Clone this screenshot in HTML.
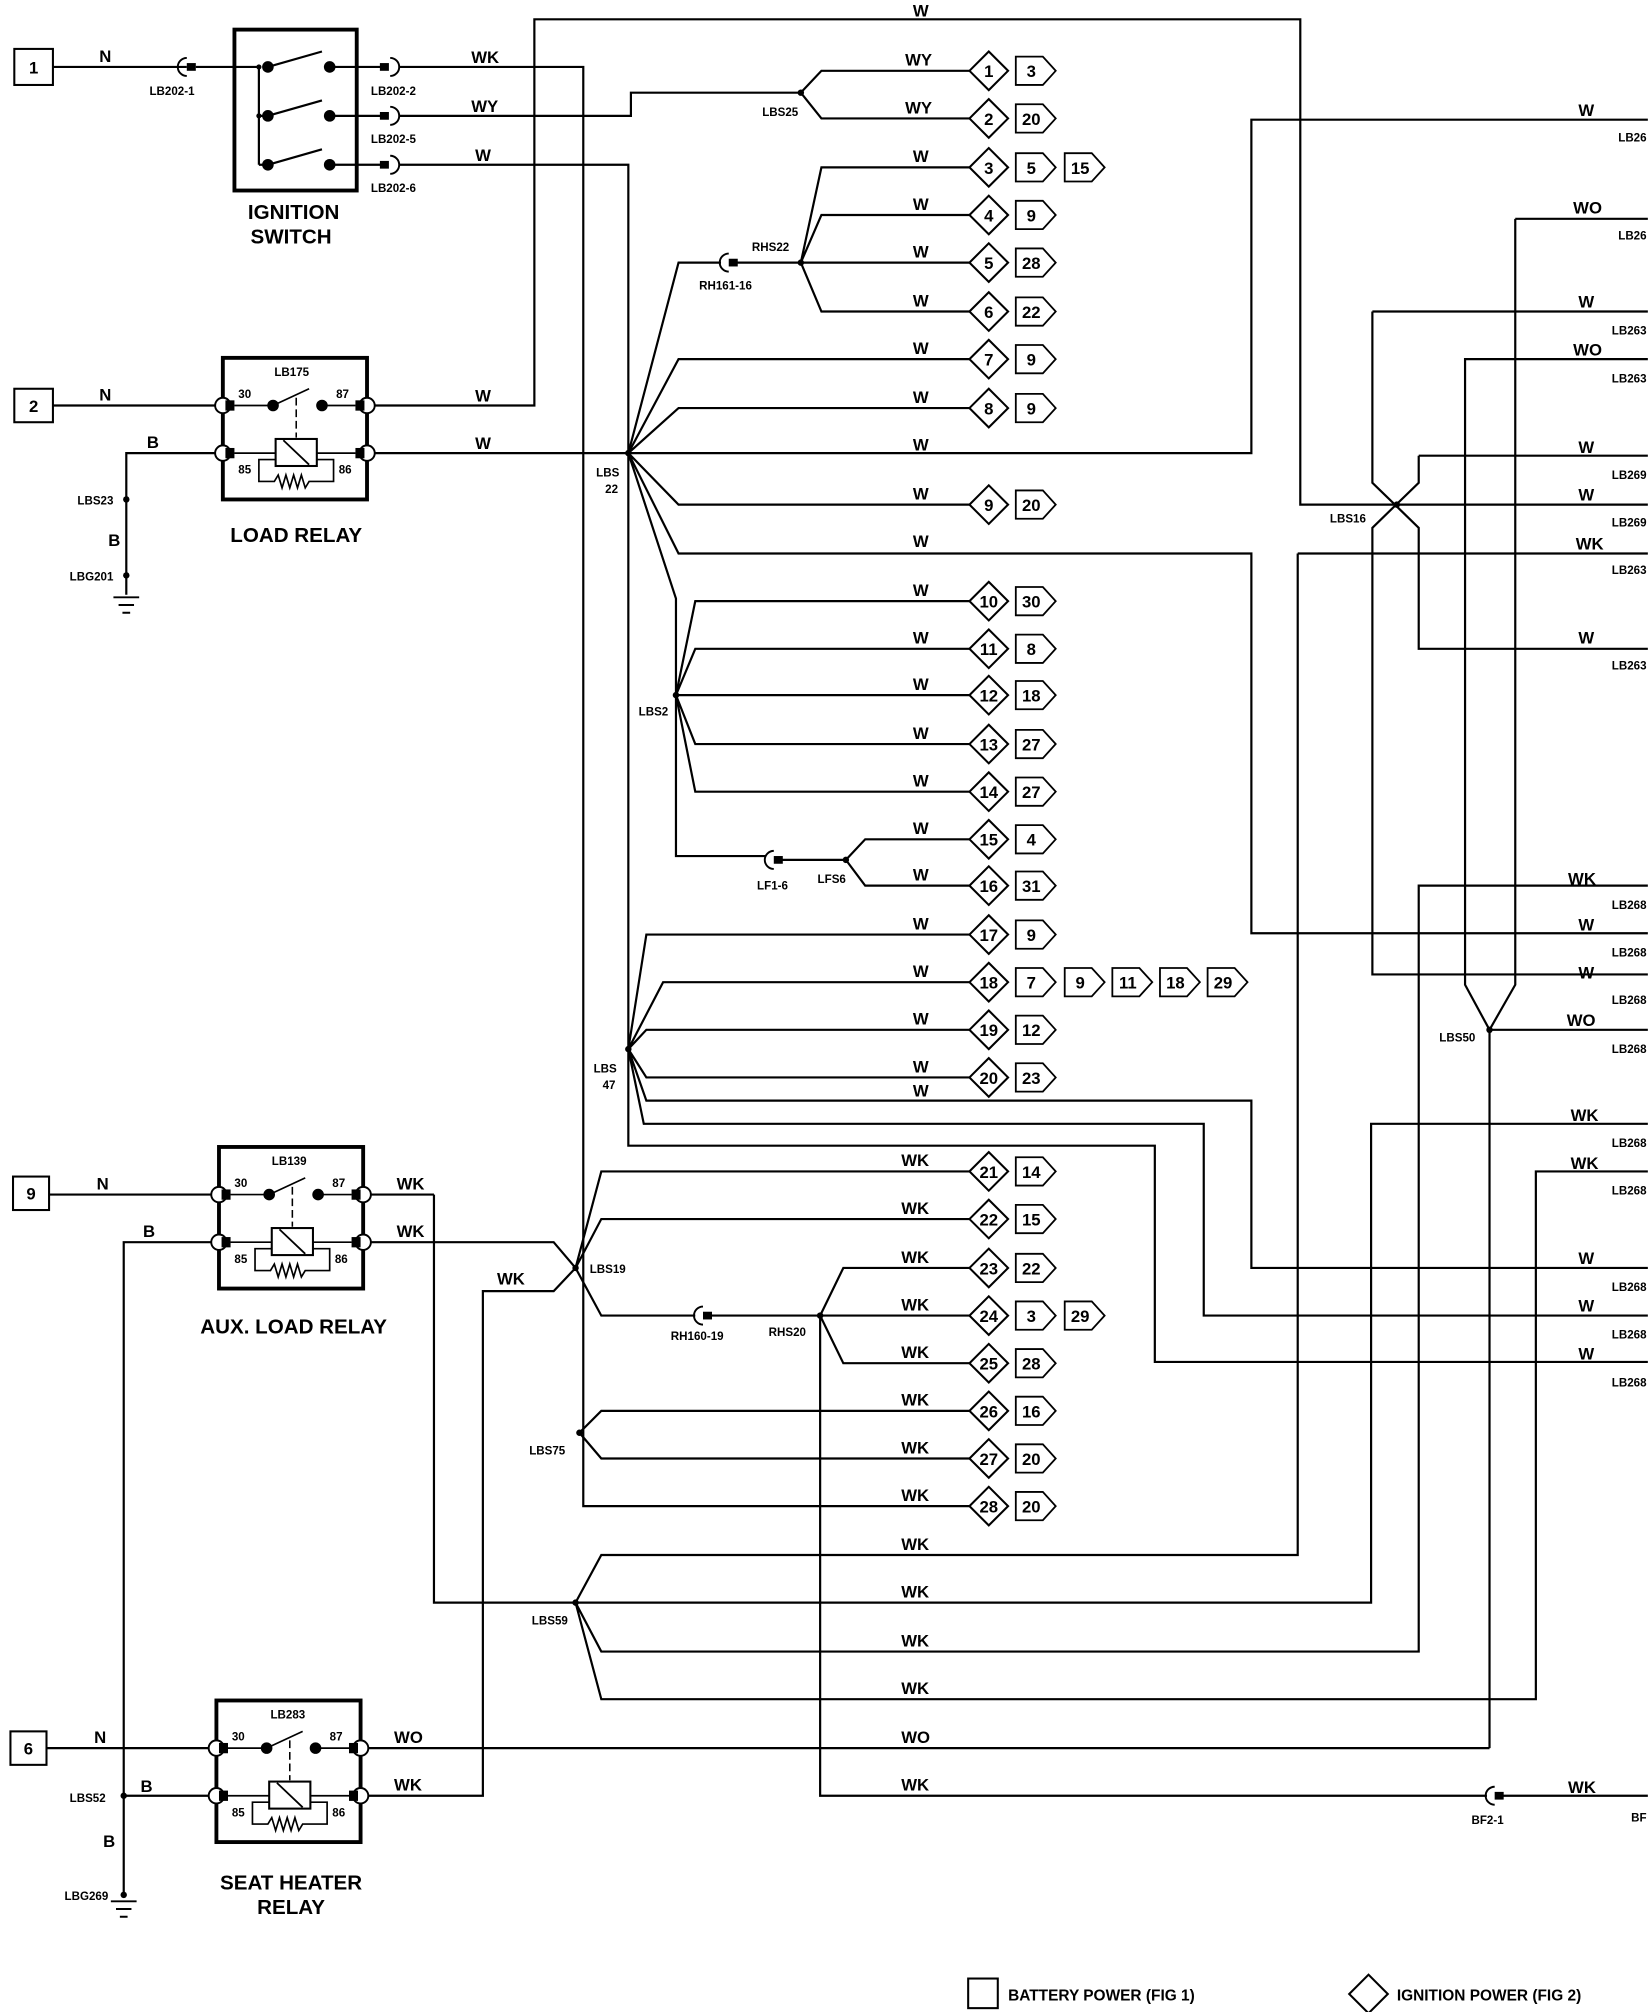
<!DOCTYPE html>
<html><head><meta charset="utf-8"><style>
html,body{margin:0;padding:0;background:#fff;}
svg{display:block;}
text{font-family:"Liberation Sans",sans-serif;font-weight:bold;fill:#000;}
.w{font-size:13px;}
.s{font-size:9px;}
.t{font-size:13px;text-anchor:middle;}
.big{font-size:16px;text-anchor:middle;}
</style></head><body>
<svg width="1648" height="2012" viewBox="0 0 1280 1563" xmlns="http://www.w3.org/2000/svg">
<defs>
<g id="relay">
<rect x="0" y="0" width="112" height="110" fill="none" stroke="#000" stroke-width="3"/>
<circle cx="0" cy="37" r="6" fill="#fff" stroke="#000" stroke-width="1.5"/>
<circle cx="0" cy="74" r="6" fill="#fff" stroke="#000" stroke-width="1.5"/>
<circle cx="112" cy="37" r="6" fill="#fff" stroke="#000" stroke-width="1.5"/>
<circle cx="112" cy="74" r="6" fill="#fff" stroke="#000" stroke-width="1.5"/>
<rect x="2" y="33" width="7" height="8"/><rect x="2" y="70" width="7" height="8"/>
<rect x="103" y="33" width="7" height="8"/><rect x="103" y="70" width="7" height="8"/>
<path d="M9 37H39 M39 37L67 24 M77 37H103 M9 74H41 M73 74H103 M41 79H28V96H40 l3 -5 3 10 3 -10 3 10 3 -10 3 10 3 -10 3 10 3 -5 H86V79H73" fill="none" stroke="#000" stroke-width="1.3"/>
<circle cx="39" cy="37" r="4.5"/><circle cx="77" cy="37" r="4.5"/>
<path d="M57 31V62" stroke="#000" stroke-width="1.2" stroke-dasharray="6 3"/>
<rect x="41" y="63" width="32" height="21" fill="#fff" stroke="#000" stroke-width="1.6"/>
<path d="M47 64L67 83" stroke="#000" stroke-width="1.4"/>
<text x="12" y="31" class="s">30</text><text x="88" y="31" class="s">87</text>
<text x="12" y="90" class="s">85</text><text x="90" y="90" class="s">86</text>
</g>
<g id="dia"><path d="M-15 0L0 -15L15 0L0 15Z" fill="#fff" stroke="#000" stroke-width="1.6"/></g>
<g id="tag"><path d="M0 -11H21L31 0L21 11H0Z" fill="#fff" stroke="#000" stroke-width="1.4"/></g>
<g id="gnd"><path d="M-10 0H10M-6 6H6M-3 12H3" stroke="#000" stroke-width="1.5"/></g>
</defs>

<g fill="none" stroke="#000" stroke-width="1.7">
<path d="M41 52H145 M152 52H201 M201 52V128 M201 90H208 M201 128H208"/>
<path d="M256 52H296 M256 90H296 M256 128H296"/>
<path d="M310 52H453V1170H753"/>
<path d="M310 90H490V72H622"/>
<path d="M310 128H488V890H897V1058H1280"/>
<path d="M41 315H173 M285 315H415V15H1010V392H1280"/>
<path d="M173 352H98V462 M285 352H972V93H1280"/>
<path d="M208 52L250 40 M208 90L250 78 M208 128L250 116"/>
<path d="M622 72L638 55H753 M622 72L638 92H753"/>
<path d="M488 352L527 204H560 M568 204H622 M622 204L638 130H753 M622 204L638 167H753 M622 204H753 M622 204L638 242H753"/>
<path d="M488 352L527 279H753 M488 352L527 317H753 M488 352L527 392H753 M488 352L527 430H972V725H1280"/>
<path d="M488 352L525 465V665H595 M603 668H657 M657 668L672 652H753 M657 668L672 688H753"/>
<path d="M525 540L540 467H753 M525 540L540 504H753 M525 540H753 M525 540L540 578H753 M525 540L540 615H753"/>
<path d="M488 815L502 726H753 M488 815L515 763H753 M488 815L502 800H753 M488 815L502 837H753 M488 815L502 855H972V985H1280 M488 815L500 873H935V1022H1280"/>
<path d="M1066 242H1280 M1066 242V375L1102 410V504H1280 M1102 354H1280 M1102 354V375L1066 410V757H1280"/>
<path d="M1177 170H1280 M1177 170V765L1157 800L1138 765V279H1280 M1157 800H1280 M1157 800V1358"/>
<path d="M1008 430H1280 M1008 430V1208H467L447 1245L467 1283H1102V688H1280 M447 1245L467 1320H1193V910H1280"/>
<path d="M337 928V1245H1065V873H1280"/>
<path d="M38 928H170 M282 928H337 M170 965H96V1472 M282 965H430L447 985L430 1003H375V1395H280"/>
<path d="M447 985L467 910H753 M447 985L467 947H753 M447 985L467 1022H540 M548 1022H637 M637 1022L655 985H753 M637 1022H753 M637 1022L655 1059H753 M637 1022V1395H1155 M1163 1395H1280"/>
<path d="M450 1113L467 1096H753 M450 1113L467 1133H753"/>
<path d="M36 1358H168 M280 1358H1157 M96 1395H168"/>
</g>
<g fill="#000">
<rect x="145" y="49" width="7" height="6"/><path d="M145 45A7 7 0 0 0 145 59" fill="none" stroke="#000" stroke-width="1.5"/>
<rect x="295" y="49" width="7" height="6"/><path d="M303 45A7 7 0 0 1 303 59" fill="none" stroke="#000" stroke-width="1.5"/>
<rect x="295" y="87" width="7" height="6"/><path d="M303 83A7 7 0 0 1 303 97" fill="none" stroke="#000" stroke-width="1.5"/>
<rect x="295" y="125" width="7" height="6"/><path d="M303 121A7 7 0 0 1 303 135" fill="none" stroke="#000" stroke-width="1.5"/>
<rect x="566" y="201" width="7" height="6"/><path d="M566 197A7 7 0 0 0 566 211" fill="none" stroke="#000" stroke-width="1.5"/>
<rect x="601" y="665" width="7" height="6"/><path d="M601 661A7 7 0 0 0 601 675" fill="none" stroke="#000" stroke-width="1.5"/>
<rect x="546" y="1019" width="7" height="6"/><path d="M546 1015A7 7 0 0 0 546 1029" fill="none" stroke="#000" stroke-width="1.5"/>
<rect x="1161" y="1392" width="7" height="6"/><path d="M1161 1388A7 7 0 0 0 1161 1402" fill="none" stroke="#000" stroke-width="1.5"/>
<circle cx="208" cy="52" r="4.5"/><circle cx="208" cy="90" r="4.5"/><circle cx="208" cy="128" r="4.5"/>
<circle cx="256" cy="52" r="4.5"/><circle cx="256" cy="90" r="4.5"/><circle cx="256" cy="128" r="4.5"/>
<circle cx="201" cy="52" r="2"/><circle cx="201" cy="90" r="2"/>
<circle cx="622" cy="72" r="2.5"/><circle cx="488" cy="352" r="2.5"/><circle cx="622" cy="204" r="2.5"/>
<circle cx="525" cy="540" r="2.5"/><circle cx="657" cy="668" r="2.5"/><circle cx="488" cy="815" r="2.5"/>
<circle cx="447" cy="985" r="2.5"/><circle cx="637" cy="1022" r="2.5"/><circle cx="450" cy="1113" r="2.5"/>
<circle cx="447" cy="1245" r="2.5"/><circle cx="1085" cy="392" r="2.5"/><circle cx="1157" cy="800" r="2.5"/>
<circle cx="98" cy="388" r="2.5"/><circle cx="98" cy="447" r="2.5"/><circle cx="96" cy="1395" r="2.5"/><circle cx="96" cy="1472" r="2.5"/>
</g>
<rect x="182" y="23" width="95" height="125" fill="none" stroke="#000" stroke-width="3"/>
<use href="#relay" x="173" y="278"/>
<use href="#relay" x="170" y="891"/>
<use href="#relay" x="168" y="1321"/>
<use href="#gnd" x="98" y="464"/><use href="#gnd" x="96" y="1477"/>
<g fill="#fff" stroke="#000" stroke-width="1.6">
<rect x="11" y="38" width="30" height="28"/><rect x="11" y="302" width="30" height="26"/>
<rect x="10" y="914" width="28" height="26"/><rect x="8" y="1345" width="28" height="26"/>
</g>
<text x="26" y="57" class="t">1</text><text x="26" y="320" class="t">2</text>
<text x="24" y="932" class="t">9</text><text x="22" y="1363" class="t">6</text>

<g class="w">
<text x="77" y="48">N</text><text x="77" y="311">N</text><text x="75" y="924">N</text><text x="73" y="1354">N</text>
<text x="114" y="348">B</text><text x="84" y="424">B</text><text x="111" y="961">B</text><text x="109" y="1392">B</text><text x="80" y="1435">B</text>
<text x="366" y="49">WK</text><text x="366" y="87">WY</text><text x="369" y="125">W</text>
<text x="369" y="312">W</text><text x="369" y="349">W</text>
<text x="308" y="924">WK</text><text x="308" y="961">WK</text><text x="386" y="998">WK</text>
<text x="306" y="1354">WO</text><text x="306" y="1391">WK</text>
<text x="709" y="13">W</text>
</g>
<g class="s">
<text x="116" y="74">LB202-1</text><text x="288" y="74">LB202-2</text><text x="288" y="111">LB202-5</text><text x="288" y="149">LB202-6</text>
<text x="213" y="292">LB175</text><text x="211" y="905">LB139</text><text x="210" y="1335">LB283</text>
<text x="60" y="392">LBS23</text><text x="54" y="451">LBG201</text>
<text x="54" y="1400">LBS52</text><text x="50" y="1476">LBG269</text>
<text x="592" y="90">LBS25</text><text x="584" y="195">RHS22</text><text x="543" y="225">RH161-16</text>
<text x="463" y="370">LBS</text><text x="470" y="383">22</text>
<text x="496" y="556">LBS2</text><text x="588" y="691">LF1-6</text><text x="635" y="686">LFS6</text>
<text x="461" y="833">LBS</text><text x="468" y="846">47</text>
<text x="458" y="989">LBS19</text><text x="521" y="1041">RH160-19</text><text x="597" y="1038">RHS20</text>
<text x="411" y="1130">LBS75</text><text x="413" y="1262">LBS59</text>
<text x="1033" y="406">LBS16</text><text x="1118" y="809">LBS50</text><text x="1143" y="1417">BF2-1</text>
</g>
<text x="228" y="170" class="big">IGNITION</text><text x="226" y="189" class="big">SWITCH</text>
<text x="230" y="421" class="big">LOAD RELAY</text>
<text x="228" y="1036" class="big">AUX. LOAD RELAY</text>
<text x="226" y="1468" class="big">SEAT HEATER</text><text x="226" y="1487" class="big">RELAY</text>

<g class="w">
<text x="1226" y="90">W</text><text x="1222" y="166">WO</text><text x="1226" y="239">W</text><text x="1222" y="276">WO</text>
<text x="1226" y="352">W</text><text x="1226" y="389">W</text><text x="1224" y="427">WK</text><text x="1226" y="500">W</text>
<text x="1218" y="687">WK</text><text x="1226" y="723">W</text><text x="1226" y="760">W</text><text x="1217" y="797">WO</text>
<text x="1220" y="871">WK</text><text x="1220" y="908">WK</text><text x="1226" y="982">W</text><text x="1226" y="1019">W</text><text x="1226" y="1056">W</text>
<text x="1218" y="1393">WK</text>
</g>
<g class="s">
<text x="1257" y="110">LB26</text><text x="1257" y="186">LB26</text><text x="1252" y="260">LB263</text><text x="1252" y="297">LB263</text>
<text x="1252" y="372">LB269</text><text x="1252" y="409">LB269</text><text x="1252" y="446">LB263</text><text x="1252" y="520">LB263</text>
<text x="1252" y="706">LB268</text><text x="1252" y="743">LB268</text><text x="1252" y="780">LB268</text><text x="1252" y="818">LB268</text>
<text x="1252" y="891">LB268</text><text x="1252" y="928">LB268</text><text x="1252" y="1003">LB268</text><text x="1252" y="1040">LB268</text><text x="1252" y="1077">LB268</text>
<text x="1267" y="1415">BF</text>
</g>

<g class="w">
<text x="703" y="51">WY</text><text x="703" y="88">WY</text>
<text x="709" y="126">W</text><text x="709" y="163">W</text><text x="709" y="200">W</text><text x="709" y="238">W</text>
<text x="709" y="275">W</text><text x="709" y="313">W</text><text x="709" y="350">W</text><text x="709" y="388">W</text><text x="709" y="425">W</text>
<text x="709" y="463">W</text><text x="709" y="500">W</text><text x="709" y="536">W</text><text x="709" y="574">W</text><text x="709" y="611">W</text>
<text x="709" y="648">W</text><text x="709" y="684">W</text><text x="709" y="722">W</text><text x="709" y="759">W</text><text x="709" y="796">W</text>
<text x="709" y="833">W</text><text x="709" y="852">W</text>
<text x="700" y="906">WK</text><text x="700" y="943">WK</text><text x="700" y="981">WK</text><text x="700" y="1018">WK</text><text x="700" y="1055">WK</text>
<text x="700" y="1092">WK</text><text x="700" y="1129">WK</text><text x="700" y="1166">WK</text><text x="700" y="1204">WK</text><text x="700" y="1241">WK</text>
<text x="700" y="1279">WK</text><text x="700" y="1316">WK</text><text x="700" y="1354">WO</text><text x="700" y="1391">WK</text>
</g>

<g font-size="13">
<use href="#dia" x="768" y="55"/><text x="768" y="60" class="t">1</text><use href="#tag" x="789" y="55"/><text x="801" y="60" class="t">3</text>
<use href="#dia" x="768" y="92"/><text x="768" y="97" class="t">2</text><use href="#tag" x="789" y="92"/><text x="801" y="97" class="t">20</text>
<use href="#dia" x="768" y="130"/><text x="768" y="135" class="t">3</text><use href="#tag" x="789" y="130"/><text x="801" y="135" class="t">5</text><use href="#tag" x="827" y="130"/><text x="839" y="135" class="t">15</text>
<use href="#dia" x="768" y="167"/><text x="768" y="172" class="t">4</text><use href="#tag" x="789" y="167"/><text x="801" y="172" class="t">9</text>
<use href="#dia" x="768" y="204"/><text x="768" y="209" class="t">5</text><use href="#tag" x="789" y="204"/><text x="801" y="209" class="t">28</text>
<use href="#dia" x="768" y="242"/><text x="768" y="247" class="t">6</text><use href="#tag" x="789" y="242"/><text x="801" y="247" class="t">22</text>
<use href="#dia" x="768" y="279"/><text x="768" y="284" class="t">7</text><use href="#tag" x="789" y="279"/><text x="801" y="284" class="t">9</text>
<use href="#dia" x="768" y="317"/><text x="768" y="322" class="t">8</text><use href="#tag" x="789" y="317"/><text x="801" y="322" class="t">9</text>
<use href="#dia" x="768" y="392"/><text x="768" y="397" class="t">9</text><use href="#tag" x="789" y="392"/><text x="801" y="397" class="t">20</text>
<use href="#dia" x="768" y="467"/><text x="768" y="472" class="t">10</text><use href="#tag" x="789" y="467"/><text x="801" y="472" class="t">30</text>
<use href="#dia" x="768" y="504"/><text x="768" y="509" class="t">11</text><use href="#tag" x="789" y="504"/><text x="801" y="509" class="t">8</text>
<use href="#dia" x="768" y="540"/><text x="768" y="545" class="t">12</text><use href="#tag" x="789" y="540"/><text x="801" y="545" class="t">18</text>
<use href="#dia" x="768" y="578"/><text x="768" y="583" class="t">13</text><use href="#tag" x="789" y="578"/><text x="801" y="583" class="t">27</text>
<use href="#dia" x="768" y="615"/><text x="768" y="620" class="t">14</text><use href="#tag" x="789" y="615"/><text x="801" y="620" class="t">27</text>
<use href="#dia" x="768" y="652"/><text x="768" y="657" class="t">15</text><use href="#tag" x="789" y="652"/><text x="801" y="657" class="t">4</text>
<use href="#dia" x="768" y="688"/><text x="768" y="693" class="t">16</text><use href="#tag" x="789" y="688"/><text x="801" y="693" class="t">31</text>
<use href="#dia" x="768" y="726"/><text x="768" y="731" class="t">17</text><use href="#tag" x="789" y="726"/><text x="801" y="731" class="t">9</text>
<use href="#dia" x="768" y="763"/><text x="768" y="768" class="t">18</text><use href="#tag" x="789" y="763"/><text x="801" y="768" class="t">7</text>
<use href="#tag" x="827" y="763"/><text x="839" y="768" class="t">9</text><use href="#tag" x="864" y="763"/><text x="876" y="768" class="t">11</text>
<use href="#tag" x="901" y="763"/><text x="913" y="768" class="t">18</text><use href="#tag" x="938" y="763"/><text x="950" y="768" class="t">29</text>
<use href="#dia" x="768" y="800"/><text x="768" y="805" class="t">19</text><use href="#tag" x="789" y="800"/><text x="801" y="805" class="t">12</text>
<use href="#dia" x="768" y="837"/><text x="768" y="842" class="t">20</text><use href="#tag" x="789" y="837"/><text x="801" y="842" class="t">23</text>
<use href="#dia" x="768" y="910"/><text x="768" y="915" class="t">21</text><use href="#tag" x="789" y="910"/><text x="801" y="915" class="t">14</text>
<use href="#dia" x="768" y="947"/><text x="768" y="952" class="t">22</text><use href="#tag" x="789" y="947"/><text x="801" y="952" class="t">15</text>
<use href="#dia" x="768" y="985"/><text x="768" y="990" class="t">23</text><use href="#tag" x="789" y="985"/><text x="801" y="990" class="t">22</text>
<use href="#dia" x="768" y="1022"/><text x="768" y="1027" class="t">24</text><use href="#tag" x="789" y="1022"/><text x="801" y="1027" class="t">3</text><use href="#tag" x="827" y="1022"/><text x="839" y="1027" class="t">29</text>
<use href="#dia" x="768" y="1059"/><text x="768" y="1064" class="t">25</text><use href="#tag" x="789" y="1059"/><text x="801" y="1064" class="t">28</text>
<use href="#dia" x="768" y="1096"/><text x="768" y="1101" class="t">26</text><use href="#tag" x="789" y="1096"/><text x="801" y="1101" class="t">16</text>
<use href="#dia" x="768" y="1133"/><text x="768" y="1138" class="t">27</text><use href="#tag" x="789" y="1133"/><text x="801" y="1138" class="t">20</text>
<use href="#dia" x="768" y="1170"/><text x="768" y="1175" class="t">28</text><use href="#tag" x="789" y="1170"/><text x="801" y="1175" class="t">20</text>
</g>

<rect x="752" y="1537" width="23" height="23" fill="none" stroke="#000" stroke-width="1.6"/>
<text x="783" y="1554" style="font-size:12px">BATTERY POWER (FIG 1)</text>
<path d="M1048 1549L1063 1534L1078 1549L1063 1564Z" fill="none" stroke="#000" stroke-width="1.6"/>
<text x="1085" y="1554" style="font-size:12px">IGNITION POWER (FIG 2)</text>
</svg>
</body></html>
